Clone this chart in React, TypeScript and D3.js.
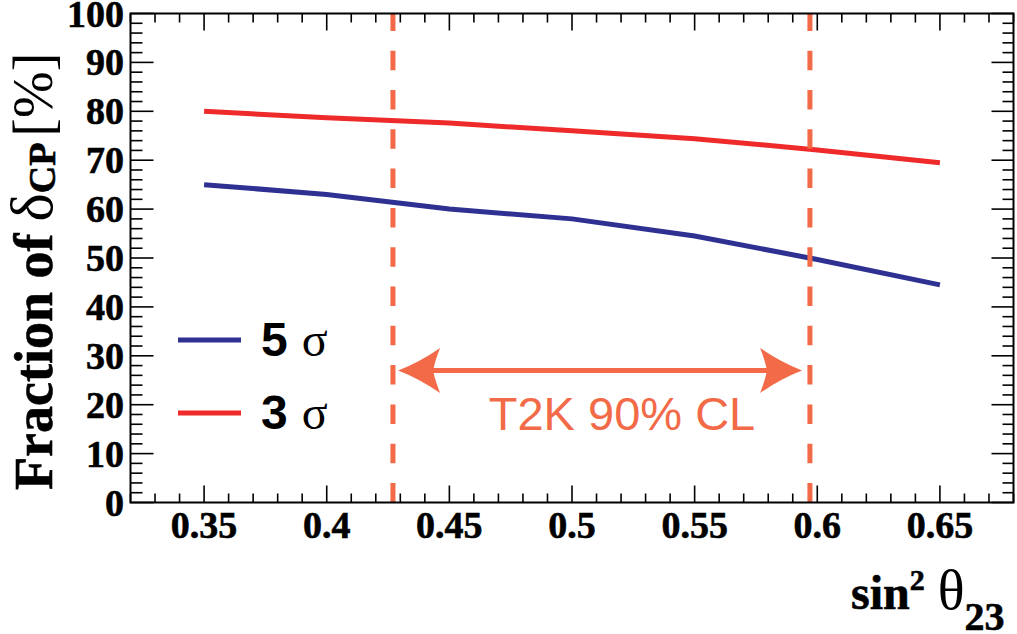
import React from "react";
import * as d3 from "d3";

// sin^2(theta_23) sample points and the CP-violation coverage for each significance
const sin2Theta23 = [0.35, 0.4, 0.45, 0.5, 0.55, 0.6, 0.65];
const fraction3Sigma = [80.0, 78.7, 77.6, 76.0, 74.4, 72.1, 69.5];
const fraction5Sigma = [65.0, 63.0, 60.0, 58.0, 54.5, 49.7, 44.5];

// T2K 90% CL band edges
const t2kBand = [0.427, 0.597];
const t2kArrow = [0.4291, 0.5938];
const t2kArrowLevel = 27;
const t2kLabel = "T2K 90% CL";

const xMajorTicks = [0.35, 0.4, 0.45, 0.5, 0.55, 0.6, 0.65];
const xTickLabels = ["0.35", "0.4", "0.45", "0.5", "0.55", "0.6", "0.65"];
const yMajorTicks = [0, 10, 20, 30, 40, 50, 60, 70, 80, 90, 100];
const yTickLabels = ["0", "10", "20", "30", "40", "50", "60", "70", "80", "90", "100"];

const legendEntries = [
  { n: "5", color: "#2E3192" },
  { n: "3", color: "#EE2A2B" },
];

const W = 1017;
const H = 634;
const left = 130.5;
const right = 1013.5;
const top = 13.5;
const bottom = 502.5;

const ORANGE = "#F26A47";
const SERIF = "'Liberation Serif', 'Times New Roman', serif";
const SANS = "'Liberation Sans', Arial, sans-serif";

export default function App() {
  const x = d3.scaleLinear().domain([0.32, 0.68]).range([left, right]);
  const y = d3.scaleLinear().domain([0, 100]).range([bottom, top]);

  const xMinor = d3
    .range(32, 69)
    .map((v) => v / 100)
    .filter((v) => !xMajorTicks.some((m) => Math.abs(m - v) < 1e-9));
  const yMinor = d3.range(0, 101, 2).filter((v) => v % 10 !== 0);

  const line = d3
    .line<number>()
    .x((_, i) => x(sin2Theta23[i]))
    .y((d) => y(d));

  const head = "M0,0 Q-21,-8 -42,-22.5 Q-37,-10 -35,0 Q-37,10 -42,22.5 Q-21,8 0,0 Z";
  const ay = y(t2kArrowLevel);
  const ax0 = x(t2kArrow[0]);
  const ax1 = x(t2kArrow[1]);

  const boldText = { fontFamily: SERIF, fontWeight: "bold" as const, stroke: "#000", strokeWidth: 0.6 };

  return (
    <svg
      width={W}
      height={H}
      style={{ position: "absolute", left: 0, top: 0, background: "#fff" }}
    >
      {/* data curves */}
      <path d={line(fraction5Sigma) || ""} fill="none" stroke="#2E3192" strokeWidth={5} />
      <path d={line(fraction3Sigma) || ""} fill="none" stroke="#EE2A2B" strokeWidth={5} />

      {/* T2K band edges */}
      {t2kBand.map((v, i) => (
        <line
          key={i}
          x1={x(v)}
          x2={x(v)}
          y1={bottom}
          y2={top}
          stroke={ORANGE}
          strokeWidth={5}
          strokeDasharray="19.5 19.8"
        />
      ))}

      {/* double-headed arrow */}
      <line x1={ax0 + 30} x2={ax1 - 30} y1={ay} y2={ay} stroke={ORANGE} strokeWidth={5} />
      <path d={head} fill={ORANGE} transform={`translate(${ax1},${ay})`} />
      <path d={head} fill={ORANGE} transform={`translate(${ax0},${ay}) rotate(180)`} />
      <text x={622} y={430} textAnchor="middle" fontFamily={SANS} fontSize={47} fill={ORANGE}>
        {t2kLabel}
      </text>

      {/* frame */}
      <rect
        x={left}
        y={top}
        width={right - left}
        height={bottom - top}
        fill="none"
        stroke="#000"
        strokeWidth={2}
      />

      {/* x ticks, bottom and top */}
      {xMajorTicks.map((v) => (
        <g key={"xM" + v}>
          <line x1={x(v)} x2={x(v)} y1={bottom} y2={bottom - 17} stroke="#000" strokeWidth={1.6} />
          <line x1={x(v)} x2={x(v)} y1={top} y2={top + 17} stroke="#000" strokeWidth={1.6} />
        </g>
      ))}
      {xMinor.map((v) => (
        <g key={"xm" + v}>
          <line x1={x(v)} x2={x(v)} y1={bottom} y2={bottom - 9} stroke="#000" strokeWidth={1.6} />
          <line x1={x(v)} x2={x(v)} y1={top} y2={top + 9} stroke="#000" strokeWidth={1.6} />
        </g>
      ))}

      {/* y ticks, left and right */}
      {yMajorTicks.map((v) => (
        <g key={"yM" + v}>
          <line x1={left} x2={left + 23} y1={y(v)} y2={y(v)} stroke="#000" strokeWidth={1.6} />
          <line x1={right} x2={right - 22} y1={y(v)} y2={y(v)} stroke="#000" strokeWidth={1.6} />
        </g>
      ))}
      {yMinor.map((v) => (
        <g key={"ym" + v}>
          <line x1={left} x2={left + 12} y1={y(v)} y2={y(v)} stroke="#000" strokeWidth={1.6} />
          <line x1={right} x2={right - 11} y1={y(v)} y2={y(v)} stroke="#000" strokeWidth={1.6} />
        </g>
      ))}

      {/* tick labels */}
      {xMajorTicks.map((v, i) => (
        <text key={"xl" + v} x={x(v)} y={538} textAnchor="middle" fontSize={38} {...boldText}>
          {xTickLabels[i]}
        </text>
      ))}
      {yMajorTicks.map((v, i) => (
        <text key={"yl" + v} x={124} y={y(v) + 13} textAnchor="end" fontSize={38} {...boldText}>
          {yTickLabels[i]}
        </text>
      ))}

      {/* axis titles */}
      <text x={851} y={609} fontSize={48} {...boldText}>
        sin
        <tspan fontSize={30} dy={-19}>2</tspan>
        <tspan fontWeight="normal" strokeWidth={0} fontSize={56} dy={19} dx={13}>θ</tspan>
        <tspan fontSize={40} dy={21}>23</tspan>
      </text>
      <text transform="translate(52,490) rotate(-90)" fontSize={54} {...boldText}>
        Fraction of
        <tspan fontWeight="normal" strokeWidth={0} fontSize={60} dx={12}>δ</tspan>
        <tspan fontSize={38} dy={3}>CP</tspan>
        <tspan fontWeight="normal" strokeWidth={0} fontSize={56} dy={-3} dx={6}>[%]</tspan>
      </text>

      {/* legend */}
      {legendEntries.map((e, i) => {
        const ly = 340 + i * 73;
        return (
          <g key={e.n}>
            <line x1={178} x2={241} y1={ly} y2={ly} stroke={e.color} strokeWidth={5} />
            <text x={261} y={ly + 16} fontSize={48}>
              <tspan fontFamily={SANS} fontWeight="bold">{e.n}</tspan>
              <tspan fontFamily={SERIF} dx={14}>σ</tspan>
            </text>
          </g>
        );
      })}
    </svg>
  );
}
